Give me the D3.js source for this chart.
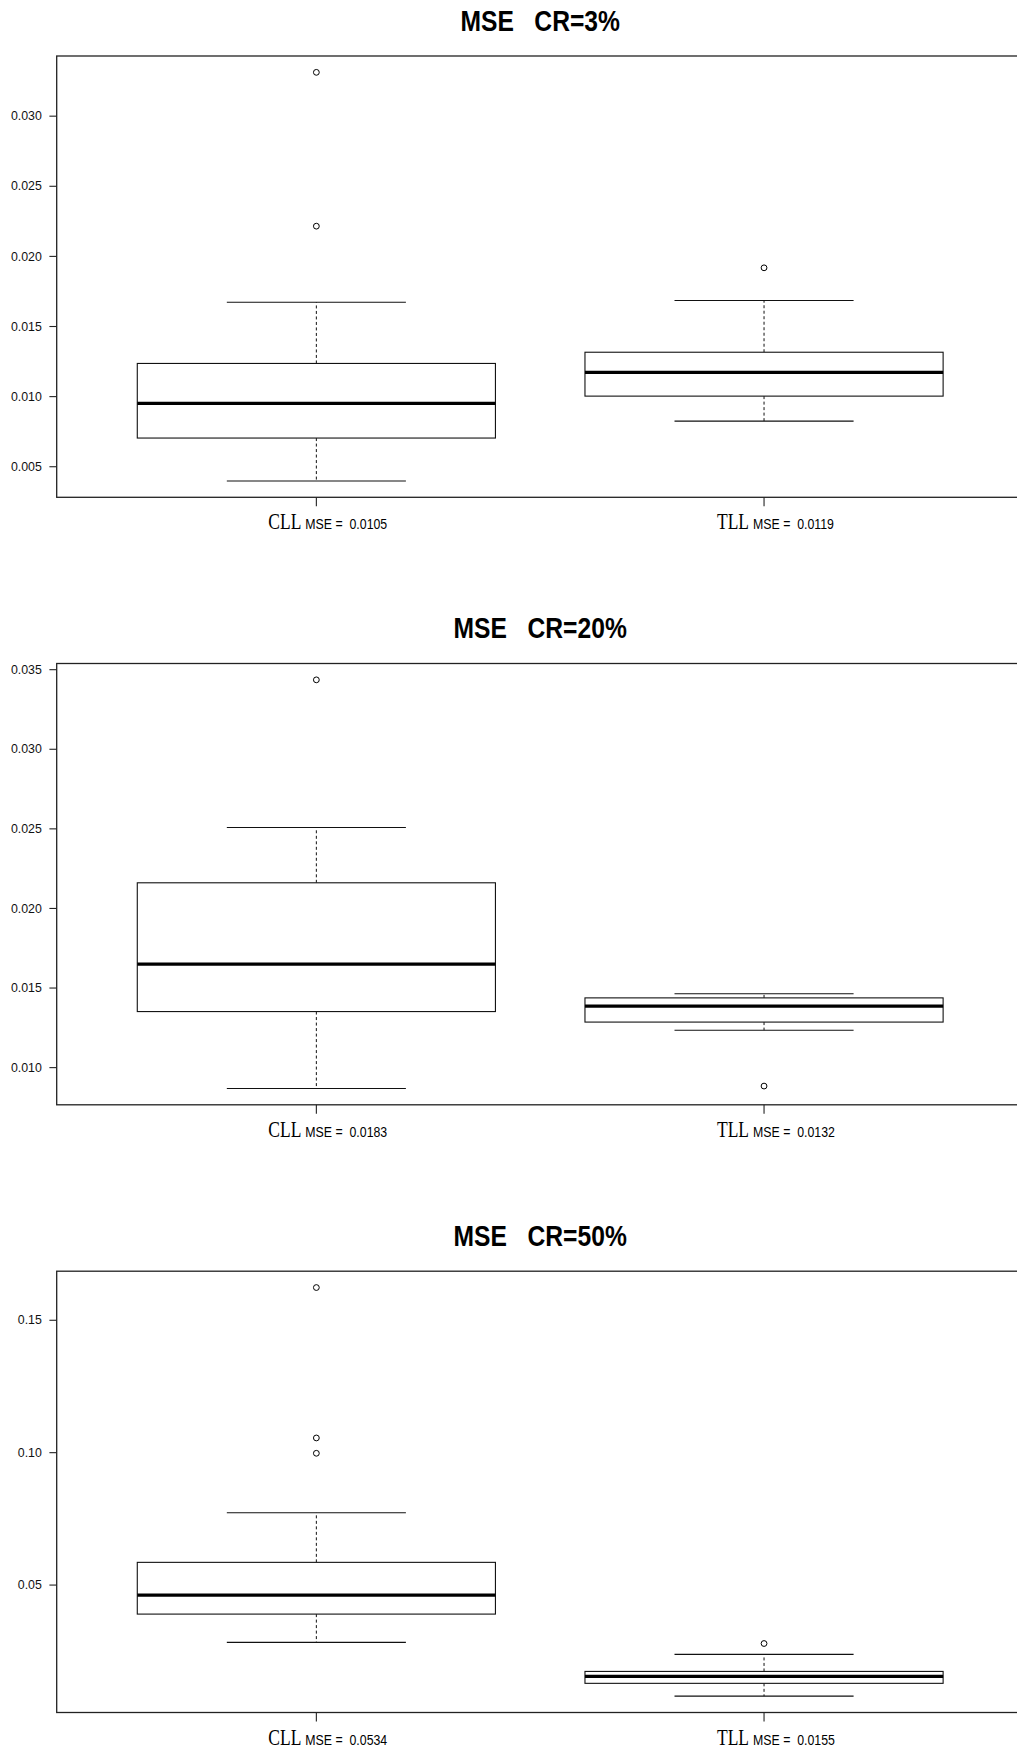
<!DOCTYPE html>
<html>
<head>
<meta charset="utf-8">
<script src="https://cdn.jsdelivr.net/npm/d3@7"></script>
<style>
  html, body { margin: 0; padding: 0; background: #fff; }
  svg { display: block; }
</style>
</head>
<body>
<div id="chart"></div>
<script>
// Boxplots of MSE for CLL vs TLL at three censoring rates
const panelTitles = ['MSE   CR=3%', 'MSE   CR=20%', 'MSE   CR=50%'];
const methods = ['CLL', 'TLL'];
const mseValues = [
  ['0.0105', '0.0119'],
  ['0.0183', '0.0132'],
  ['0.0534', '0.0155'],
];

// five-number summaries [lower whisker, Q1, median, Q3, upper whisker]
const stats3 = [
  [0.00395, 0.00701, 0.00948, 0.01233, 0.01669],
  [0.00822, 0.01000, 0.01170, 0.01313, 0.01682],
];
const outliers3 = [[0.03309, 0.02212], [0.01915]];

const stats20 = [
  [0.00866, 0.01349, 0.01647, 0.02158, 0.02505],
  [0.01232, 0.01283, 0.01383, 0.01435, 0.01461],
];
const outliers20 = [[0.03433], [0.00881]];

const stats50 = [
  [0.02816, 0.03885, 0.04603, 0.05839, 0.07714],
  [0.00786, 0.01270, 0.01534, 0.01720, 0.02362],
];
const outliers50 = [[0.16217, 0.10537, 0.09958], [0.02774]];

const yTicks3 = [0.005, 0.010, 0.015, 0.020, 0.025, 0.030];
const yTicks20 = [0.010, 0.015, 0.020, 0.025, 0.030, 0.035];
const yTicks50 = [0.05, 0.10, 0.15];

const panels = [
  { title: panelTitles[0], stats: stats3, out: outliers3, ticks: yTicks3, fmt: d3.format('.3f'), mse: mseValues[0] },
  { title: panelTitles[1], stats: stats20, out: outliers20, ticks: yTicks20, fmt: d3.format('.3f'), mse: mseValues[1] },
  { title: panelTitles[2], stats: stats50, out: outliers50, ticks: yTicks50, fmt: d3.format('.2f'), mse: mseValues[2] },
];

const W = 1017, H = 1753;
const panelTop = [56, 663.5, 1271.2];
const plotH = 441.3;
const plotLeft = 56.7, plotRight = 1023.7;

const svg = d3.select('#chart').append('svg')
  .attr('width', W)
  .attr('height', H);

// squeeze text horizontally (source figure was rendered condensed)
function squeeze(sel, ratio) {
  sel.each(function () {
    const w = this.getComputedTextLength();
    d3.select(this).attr('textLength', w * ratio).attr('lengthAdjust', 'spacingAndGlyphs');
  });
}

const x = d3.scaleLinear().domain([0.42, 2.58]).range([plotLeft, plotRight]);
const boxW = 0.8;

panels.forEach((p, pi) => {
  const top = panelTop[pi];
  const bottom = top + plotH;

  // R-style 4% expansion of the data range
  const all = p.stats.flat().concat(p.out.flat());
  const lo = d3.min(all), hi = d3.max(all);
  const pad = (hi - lo) * 0.04;
  const y = d3.scaleLinear().domain([lo - pad, hi + pad]).range([bottom, top]);

  const g = svg.append('g');

  // title
  g.append('text')
    .attr('x', (plotLeft + plotRight) / 2)
    .attr('y', top - 25.3)
    .attr('text-anchor', 'middle')
    .attr('font-family', '"Liberation Sans", Arial, sans-serif')
    .attr('font-weight', 'bold')
    .attr('font-size', 29)
    .style('white-space', 'pre')
    .text(p.title)
    .call(squeeze, 0.85);

  // boxes
  methods.forEach((m, i) => {
    const s = p.stats[i];
    const cx = x(i + 1);
    const bg = g.append('g');

    // whiskers (dashed)
    bg.append('line')
      .attr('x1', cx).attr('x2', cx)
      .attr('y1', y(s[3])).attr('y2', y(s[4]))
      .attr('stroke', '#111').attr('stroke-width', 1).attr('stroke-dasharray', '3,2.5');
    bg.append('line')
      .attr('x1', cx).attr('x2', cx)
      .attr('y1', y(s[1])).attr('y2', y(s[0]))
      .attr('stroke', '#111').attr('stroke-width', 1).attr('stroke-dasharray', '3,2.5');

    // caps
    [s[0], s[4]].forEach(v => {
      bg.append('line')
        .attr('x1', x(i + 1 - boxW / 4)).attr('x2', x(i + 1 + boxW / 4))
        .attr('y1', y(v)).attr('y2', y(v))
        .attr('stroke', '#111').attr('stroke-width', 1.1);
    });

    // box
    bg.append('rect')
      .attr('x', x(i + 1 - boxW / 2))
      .attr('y', y(s[3]))
      .attr('width', x(i + 1 + boxW / 2) - x(i + 1 - boxW / 2))
      .attr('height', y(s[1]) - y(s[3]))
      .attr('fill', '#fff')
      .attr('stroke', '#111').attr('stroke-width', 1.1);

    // median
    bg.append('line')
      .attr('x1', x(i + 1 - boxW / 2)).attr('x2', x(i + 1 + boxW / 2))
      .attr('y1', y(s[2])).attr('y2', y(s[2]))
      .attr('stroke', '#000').attr('stroke-width', 3.2);

    // outliers
    bg.selectAll('circle')
      .data(p.out[i])
      .join('circle')
      .attr('cx', cx)
      .attr('cy', d => y(d))
      .attr('r', 2.9)
      .attr('fill', 'none')
      .attr('stroke', '#000')
      .attr('stroke-width', 1);

    // x tick + label
    g.append('line')
      .attr('x1', cx).attr('x2', cx)
      .attr('y1', bottom).attr('y2', bottom + 9)
      .attr('stroke', '#222').attr('stroke-width', 1.1);

    g.append('text')
      .attr('x', cx - 15)
      .attr('y', bottom + 32)
      .attr('text-anchor', 'end')
      .attr('font-family', '"Liberation Serif", "Times New Roman", serif')
      .attr('font-size', 23)
      .text(m)
      .call(squeeze, 0.76);

    g.append('text')
      .attr('x', cx - 11)
      .attr('y', bottom + 32)
      .attr('text-anchor', 'start')
      .attr('font-family', '"Liberation Sans", Arial, sans-serif')
      .attr('font-size', 14)
      .style('white-space', 'pre')
      .text('MSE =  ' + p.mse[i])
      .call(squeeze, 0.88);
  });

  // y axis ticks + labels
  const yAxis = g.append('g')
    .attr('transform', `translate(${plotLeft},0)`)
    .call(d3.axisLeft(y).tickValues(p.ticks).tickFormat(p.fmt).tickSize(7.3).tickPadding(7.6));
  yAxis.select('.domain').remove();
  yAxis.selectAll('.tick line').attr('stroke', '#222').attr('stroke-width', 1.1);
  yAxis.selectAll('.tick text')
    .attr('font-family', '"Liberation Sans", Arial, sans-serif')
    .attr('font-size', 13)
    .attr('fill', '#111')
    .call(squeeze, 0.95);

  // frame
  g.append('rect')
    .attr('x', plotLeft)
    .attr('y', top)
    .attr('width', plotRight - plotLeft)
    .attr('height', plotH)
    .attr('fill', 'none')
    .attr('stroke', '#222')
    .attr('stroke-width', 1.3);
});
</script>
</body>
</html>
